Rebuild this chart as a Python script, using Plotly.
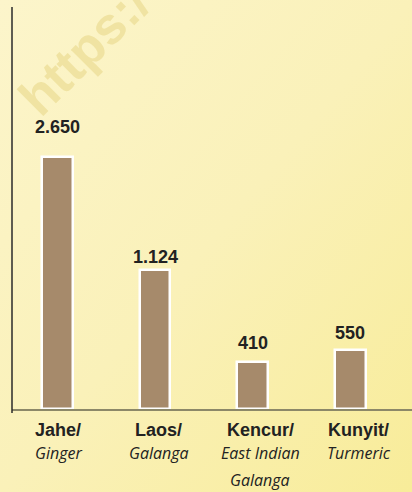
import base64
import plotly.graph_objects as go

# ---- data ----
categories_id = ["Jahe/", "Laos/", "Kencur/", "Kunyit/"]
categories_en = [["Ginger"], ["Galanga"], ["East Indian", "Galanga"], ["Turmeric"]]
value_labels = ["2.650", "1.124", "410", "550"]
# bar lengths as drawn in the picture (the original is not drawn to scale), in value units
drawn_heights = [2650, 1460, 490, 620]

# ---- styles ----
BAR = "#A68A6B"
TXT = "#222222"
W, H = 412, 492
ML, MR, MT, MB = 12, 0, 7, 83
PW, PH = W - ML - MR, H - MT - MB
label_yshift = [18, 1, 7, 4.5]
cat_xshift = [1, 3.6, 7.3, 8.4]

svg = (
    f'<svg xmlns="http://www.w3.org/2000/svg" width="{W}" height="{H}">'
    '<defs><linearGradient id="g" x1="0" y1="0" x2="1" y2="1">'
    '<stop offset="0" stop-color="#FCF5CB"/>'
    '<stop offset="0.5" stop-color="#FAF1B9"/>'
    '<stop offset="1" stop-color="#F8EC99"/>'
    '</linearGradient></defs>'
    '<rect width="100%" height="100%" fill="url(#g)"/></svg>'
)
bg_uri = "data:image/svg+xml;base64," + base64.b64encode(svg.encode()).decode()

fig = go.Figure()
fig.add_trace(go.Bar(
    x=categories_id, y=drawn_heights, width=0.315,
    marker=dict(color=BAR, line=dict(color="white", width=2.5)),
    hoverinfo="skip",
))

ann = []
# watermark
ann.append(dict(
    text="<b>https:/</b>", xref="paper", yref="paper",
    x=(84 - ML) / PW, y=(H - MB - 50) / PH, showarrow=False,
    textangle=-45, font=dict(family="Liberation Sans, Arial", size=52, color="#F0E3A2"),
    xanchor="center", yanchor="middle",
))
for i, c in enumerate(categories_id):
    ann.append(dict(
        text=f"<b>{value_labels[i]}</b>", x=c, y=drawn_heights[i], xref="x", yref="y",
        showarrow=False, yanchor="bottom", yshift=label_yshift[i],
        font=dict(family="Liberation Sans, Arial", size=18, color=TXT),
    ))
    ann.append(dict(
        text=f"<b>{c}</b>", x=c, y=0, xref="x", yref="paper",
        showarrow=False, yanchor="top", yshift=-9, xshift=cat_xshift[i],
        font=dict(family="Liberation Sans, Arial", size=18, color=TXT),
    ))
    for k, line in enumerate(categories_en[i]):
        ann.append(dict(
            text=f"<i>{line}</i>", x=c, y=0, xref="x", yref="paper",
            showarrow=False, yanchor="top", yshift=-31 - 27 * k, xshift=cat_xshift[i],
            font=dict(family="Open Sans", size=16, color=TXT),
        ))

fig.update_layout(
    width=W, height=H,
    margin=dict(l=ML, r=MR, t=MT, b=MB, pad=0),
    paper_bgcolor="#FAF1B9", plot_bgcolor="rgba(0,0,0,0)",
    showlegend=False, bargap=0,
    images=[dict(source=bg_uri, xref="paper", yref="paper",
                 x=-ML / PW, y=1 + MT / PH, sizex=W / PW, sizey=H / PH,
                 xanchor="left", yanchor="top", sizing="stretch", layer="below")],
    xaxis=dict(range=[-0.466, 3.632], showticklabels=False, ticks="",
               showgrid=False, zeroline=False,
               showline=True, linecolor="#8C8868", linewidth=2),
    yaxis=dict(range=[0, 4224], visible=False, showgrid=False, zeroline=False),
    shapes=[dict(type="line", xref="paper", yref="paper", x0=0, x1=0,
                 y0=-4 / PH, y1=1, line=dict(color="#2A2A2A", width=1.5))],
    annotations=ann,
)

fig.write_html(
    "out.html",
    config={"displayModeBar": False},
    post_script="document.body.style.margin='0';document.body.style.overflow='hidden';",
)
